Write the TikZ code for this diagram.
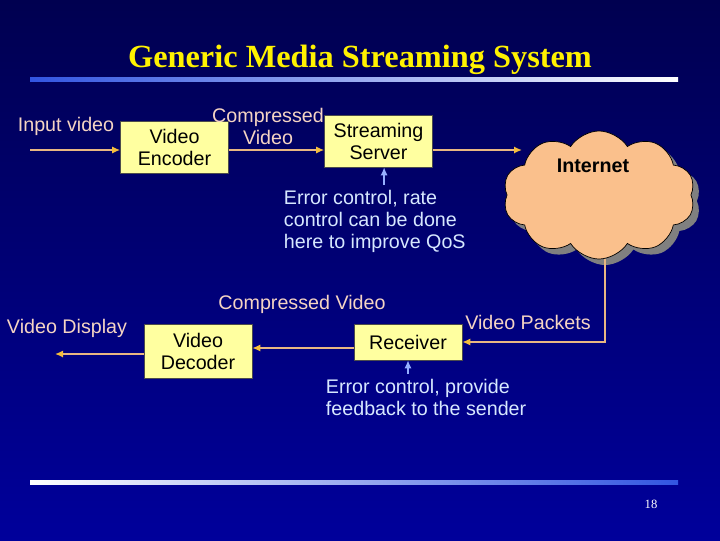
\documentclass[tikz,border=0pt]{standalone}
\usepackage{fontspec}
\setmainfont{Liberation Sans}
\newfontfamily\titlefont{Liberation Serif}
\usepackage{xcolor}
\usetikzlibrary{positioning,calc,arrows.meta,shapes.symbols,shadows}

\definecolor{bgtop}{RGB}{0,0,80}
\definecolor{bgbot}{RGB}{0,0,155}
\definecolor{boxyel}{RGB}{255,255,160}
\definecolor{lblpeach}{RGB}{245,212,195}
\definecolor{notetxt}{RGB}{215,232,255}
\definecolor{flowc}{RGB}{232,182,130}
\definecolor{tipc}{RGB}{245,190,60}
\definecolor{fbblue}{RGB}{150,175,255}
\definecolor{cloudc}{RGB}{250,192,140}
\definecolor{rulblue}{RGB}{50,85,225}

\begin{document}
\begin{tikzpicture}[
  x=0.025cm, y=-0.025cm,
  every node/.style={font=\fontsize{14}{15.6}\selectfont},
  blk/.style={rectangle, draw=black!70, line width=0.4pt, fill=boxyel, text=black, align=center, minimum width=2.7cm},
  lbl/.style={text=lblpeach, align=center},
  note/.style={text=notetxt, align=left, anchor=west},
  flow/.style={draw=flowc, line width=1.2pt, -{Latex[length=2mm,width=1.8mm,color=tipc]}},
  fb/.style={draw=fbblue, line width=1.2pt, -{Latex[length=2mm,width=1.8mm]}}
]
% background and rules
\shade[top color=bgtop, bottom color=bgbot] (0,0) rectangle (720,540);
\shade[left color=rulblue, right color=white] (30,77.5) rectangle (678,81);
\shade[left color=white, right color=rulblue] (30,480.5) rectangle (678,484);

\node[font=\titlefont\bfseries\fontsize{23}{26}\selectfont, text=yellow] (title) at (360,60) {Generic Media Streaming System};
\node[font=\titlefont\fontsize{9}{10}\selectfont, text=white] (pg) at (651,504) {18};

% sender side
\node[blk, minimum height=1.3cm] (enc) at (174.5,147) {Video\\Encoder};
\node[blk, minimum height=1.3cm] (srv) at (378.5,141) {Streaming\\Server};
\node[cloud, cloud puffs=10, cloud puff arc=115, draw=black, line width=0.5pt, fill=cloudc,
      minimum width=4.8cm, minimum height=3.2cm,
      drop shadow={shadow xshift=0.15cm, shadow yshift=-0.15cm, fill=gray, opacity=1}] (net) at (599,195) {};
\node[font=\bfseries\fontsize{14}{15.6}\selectfont, text=black] (inet) at (593,166) {Internet};

\node[lbl] (vinlbl) at (66,126) {Input video};
\node[lbl] (cmp1) at (268,126) {Compressed\\Video};
\node[note] (err1) at (279,221) {Error control, rate\\control can be done\\here to improve QoS};

% receiver side
\node[blk, minimum height=0.9cm] (rcv) at (408,342) {Receiver};
\node[blk, minimum height=1.35cm] (dec) at (198,351) {Video\\Decoder};

\node[lbl] (vdisp) at (67,328) {Video Display};
\node[lbl] (cmp2) at (302,304) {Compressed Video};
\node[lbl] (pkts) at (528,322) {Video Packets};
\node[note] (err2) at (321,397) {Error control, provide\\feedback to the sender};

\coordinate (vin) at (30,150);
\coordinate (netin) at (522,150);
\coordinate (vout) at (55,354);

\draw[flow] (vin) -- (vin -| enc.west);
\draw[flow] (enc.east |- vin) -- (srv.west |- vin);
\draw[flow] (srv.east |- vin) -- (netin);
\draw[flow] ([xshift=0.15cm]net.south) |- (rcv.east);
\draw[flow] ([yshift=-0.15cm]rcv.west) -- ([yshift=-0.15cm]rcv.west -| dec.east);
\draw[flow] (dec.west |- vout) -- (vout);

\draw[fb] ([xshift=0.14cm]err1.north -| srv.south) -- ([xshift=0.14cm]srv.south);
\draw[fb] (err2.north -| rcv.south) -- (rcv.south);
\end{tikzpicture}
\end{document}
